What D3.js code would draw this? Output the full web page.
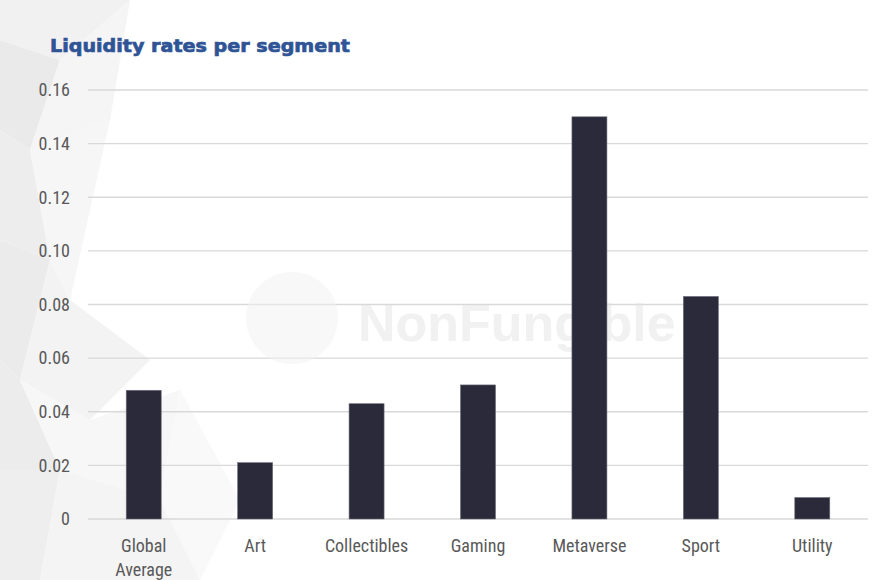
<!DOCTYPE html>
<html><head><meta charset="utf-8">
<script src="https://cdn.jsdelivr.net/npm/d3@7"></script>
<style>html,body{margin:0;padding:0;background:#fff;}svg{display:block;}</style>
</head><body>
<svg id="chart" width="896" height="580"></svg>
<script>
const categories = ["Global Average", "Art", "Collectibles", "Gaming", "Metaverse", "Sport", "Utility"];
const values = [0.048, 0.021, 0.043, 0.050, 0.150, 0.083, 0.008];
const yTicks = [0, 0.02, 0.04, 0.06, 0.08, 0.10, 0.12, 0.14, 0.16];
const yTickLabels = ["0", "0.02", "0.04", "0.06", "0.08", "0.10", "0.12", "0.14", "0.16"];
const title = "Liquidity rates per segment";

const svg = d3.select("#chart");
const W = 896, H = 580;
const m = {left: 88, right: 28, top: 90, bottom: 61};

// faint background polygons (decoration)
const bg = svg.append("g");
const polys = [
  [[0,0],[130,0],[60,60],[0,40]],
  [[0,40],[60,60],[30,150],[0,130]],
  [[60,60],[130,0],[110,120],[30,150]],
  [[0,130],[30,150],[50,260],[0,240]],
  [[30,150],[110,120],[70,300],[50,260]],
  [[0,240],[50,260],[20,380],[0,360]],
  [[50,260],[70,300],[150,360],[90,420],[20,380]],
  [[0,360],[20,380],[60,470],[0,470]],
  [[20,380],[90,420],[180,390],[160,500],[60,470]],
  [[0,470],[60,470],[40,580],[0,580]],
  [[60,470],[160,500],[200,580],[40,580]],
  [[180,390],[240,500],[200,580],[160,500]]
];
const shades = ["#f1f1f1","#eaeaea","#f5f5f5","#ededed","#f6f6f6","#ebebeb","#f3f3f3","#ececec","#f7f7f7","#eeeeee","#f4f4f4","#f9f9f9"];
bg.selectAll("path").data(polys).join("path")
  .attr("d", p => "M" + p.map(q => q.join(",")).join("L") + "Z")
  .attr("fill", (d,i) => shades[i % shades.length]);

const x = d3.scaleBand().domain(categories).range([m.left, W - m.right]).paddingInner(0.686).paddingOuter(0.343);
const y = d3.scaleLinear().domain([0, 0.16]).range([H - m.bottom, m.top]);

// gridlines
svg.append("g").selectAll("line").data(yTicks).join("line")
  .attr("x1", m.left).attr("x2", W - m.right)
  .attr("y1", d => y(d)).attr("y2", d => y(d))
  .attr("stroke", "#d9d9d9").attr("stroke-width", 1.3);

// watermark
const wm = svg.append("g").attr("opacity", 0.5);
wm.append("circle").attr("cx", 292).attr("cy", 318).attr("r", 46).attr("fill", "#f2f2f2");
wm.append("text").attr("x", 358).attr("y", 341).text("NonFungible")
  .attr("font-family", "Liberation Sans, Arial, sans-serif").attr("font-weight", "bold")
  .attr("font-size", 52).attr("fill", "#e4e4e4");

// y axis
const yAxis = d3.axisLeft(y).tickValues(yTicks).tickFormat((d,i) => yTickLabels[i]).tickSize(0).tickPadding(18);
const ya = svg.append("g").attr("transform", `translate(${m.left},0)`).call(yAxis);
ya.select(".domain").remove();
ya.selectAll("text").attr("font-family", "Liberation Sans Narrow, Roboto Condensed, Arial Narrow, sans-serif")
  .attr("font-size", 18).attr("fill", "#595959");

// bars
svg.append("g").selectAll("rect").data(values).join("rect")
  .attr("x", (d,i) => x(categories[i]))
  .attr("width", x.bandwidth())
  .attr("y", d => y(d))
  .attr("height", d => y(0) - y(d))
  .attr("fill", "#2b2a3a").attr("stroke", "#6b6b78").attr("stroke-width", 0.6);

// x axis
const xAxis = d3.axisBottom(x).tickSize(0).tickPadding(0).tickFormat(() => "");
const xa = svg.append("g").attr("transform", `translate(0,${y(0)})`).call(xAxis);
xa.select(".domain").remove();
xa.selectAll(".tick").each(function(d) {
  const words = d === "Global Average" ? ["Global", "Average"] : [d];
  const t = d3.select(this).select("text").text(null)
    .attr("font-family", "Liberation Sans Narrow, Roboto Condensed, Arial Narrow, sans-serif")
    .attr("font-size", 18).attr("fill", "#595959").attr("dy", null).attr("y", 33);
  words.forEach((w, k) => t.append("tspan").attr("x", 0).attr("y", 33 + k * 24).text(w));
});

// title
svg.append("text").attr("x", 50).attr("y", 52).text(title)
  .attr("font-family", "DejaVu Sans, Verdana, sans-serif").attr("font-weight", "bold")
  .attr("font-size", 18.5).attr("fill", "#2f5496").attr("stroke", "#2f5496").attr("stroke-width", 0.7)
  .attr("textLength", 300).attr("lengthAdjust", "spacingAndGlyphs");
</script>
</body></html>
